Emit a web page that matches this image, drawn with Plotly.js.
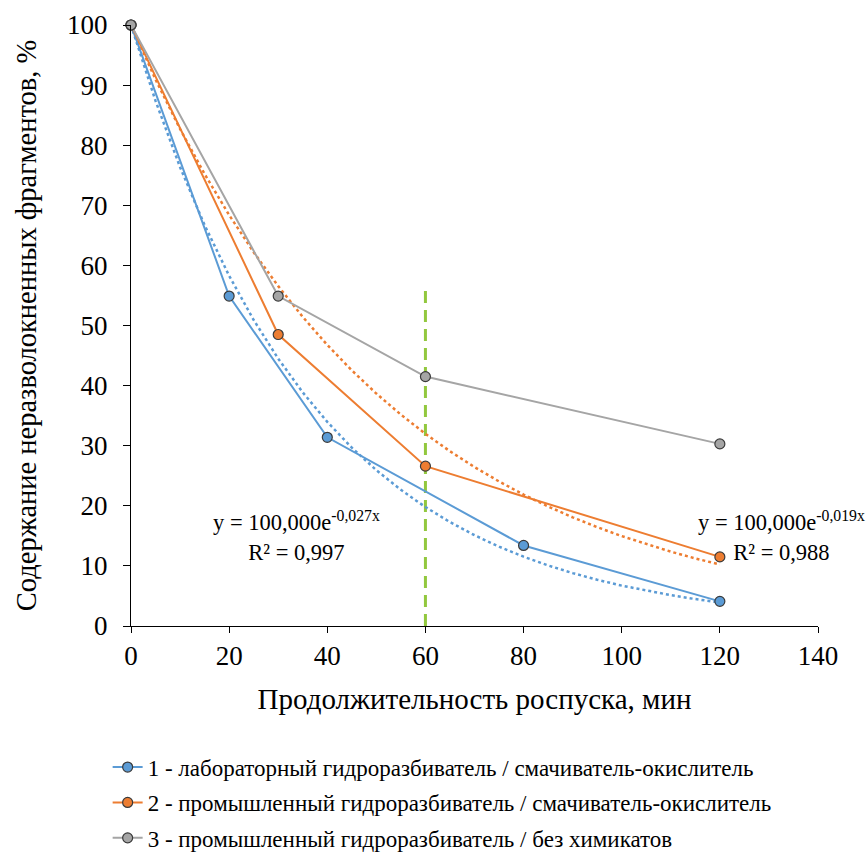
<!DOCTYPE html>
<html><head><meta charset="utf-8">
<script src="https://cdn.plot.ly/plotly-3.0.1.min.js"></script>
<style>body{margin:0;background:#fff}#c{width:867px;height:852px}</style>
</head><body><div id="c"></div>
<script>
const x1 = [0, 20, 40, 80, 120];
const y1 = [100, 54.9, 31.4, 13.4, 4.1];
const x2 = [0, 30, 60, 120];
const y2 = [100, 48.5, 26.6, 11.5];
const x3 = [0, 30, 60, 120];
const y3 = [100, 54.9, 41.5, 30.3];
const names = [
  "1 - лабораторный гидроразбиватель / смачиватель-окислитель",
  "2 - промышленный гидроразбиватель / смачиватель-окислитель",
  "3 - промышленный гидроразбиватель / без химикатов"
];
const trendA = [100, 100];
const trendK = [0.027, 0.019];
const trendX = [0, 5, 10, 15, 20, 25, 30, 35, 40, 45, 50, 55, 60, 65, 70, 75, 80, 85, 90, 95, 100, 105, 110, 115, 120];
const vlineX = [60, 60];
const vlineY = [0, 56];
const colors = ["#5B9BD5", "#ED7D31", "#A5A5A5"];

const font = "Liberation Serif";
const mk = c => ({size: 10, color: c, line: {color: "#3a3a3a", width: 1.2}});

const traces = [];
traces.push({x: vlineX, y: vlineY, mode: "lines", line: {color: "#92C83E", width: 3, dash: "12px,7px"}, showlegend: false, hoverinfo: "skip"});
for (let i = 0; i < 2; i++) {
  traces.push({x: trendX, y: trendX.map(v => trendA[i] * Math.exp(-trendK[i] * v)), mode: "lines",
    line: {color: colors[i], width: 2.5, dash: "dot"}, showlegend: false, hoverinfo: "skip"});
}
const xs = [x1, x2, x3], ys = [y1, y2, y3];
for (let i = 0; i < 3; i++) {
  traces.push({x: xs[i], y: ys[i], mode: "lines+markers", name: names[i], legendgroup: "g" + i,
    line: {color: colors[i], width: 2}, marker: mk(colors[i]), cliponaxis: false});
}

const layout = {
  width: 867, height: 852,
  margin: {l: 131, r: 49, t: 25, b: 226, autoexpand: false},
  paper_bgcolor: "#fff", plot_bgcolor: "#fff",
  font: {family: font, color: "#000"},
  showlegend: true,
  legend: {x: -0.034, y: -0.199, xanchor: "left", yanchor: "top", orientation: "v",
    font: {family: font, size: 23, color: "#000"}, tracegroupgap: 2.5, bgcolor: "rgba(0,0,0,0)"},
  xaxis: {range: [0, 140], tickvals: [0, 20, 40, 60, 80, 100, 120, 140], showgrid: false, zeroline: false,
    showline: true, linecolor: "#000", linewidth: 1, ticks: "outside", ticklen: 6, tickcolor: "#000",
    tickfont: {family: font, size: 27, color: "#000"}, automargin: false,
    title: {text: "Продолжительность роспуска, мин", font: {family: font, size: 29, color: "#000"}, standoff: 18}},
  yaxis: {range: [0, 100], tickvals: [0, 10, 20, 30, 40, 50, 60, 70, 80, 90, 100], showgrid: false, zeroline: false,
    showline: true, linecolor: "#000", linewidth: 1, ticks: "outside", ticklen: 7, tickcolor: "#000",
    tickfont: {family: font, size: 27, color: "#000"}, ticklabelstandoff: 10, automargin: false,
    title: {text: "Содержание неразволокненных фрагментов, %", font: {family: font, size: 28.5, color: "#000"}, standoff: 22}},
  annotations: [
    {x: 33.8, y: 14.9, xref: "x", yref: "y", showarrow: false, align: "center",
      text: "y = 100,000e<sup>-0,027x</sup><br>R² = 0,997", font: {family: font, size: 22.5, color: "#000"}},
    {x: 115.2, y: 14.9, xref: "x", yref: "y", xanchor: "left", showarrow: false, align: "center",
      text: "y = 100,000e<sup>-0,019x</sup><br>R² = 0,988", font: {family: font, size: 22.5, color: "#000"}}
  ]
};
Plotly.newPlot("c", traces, layout, {displayModeBar: false});
</script></body></html>
